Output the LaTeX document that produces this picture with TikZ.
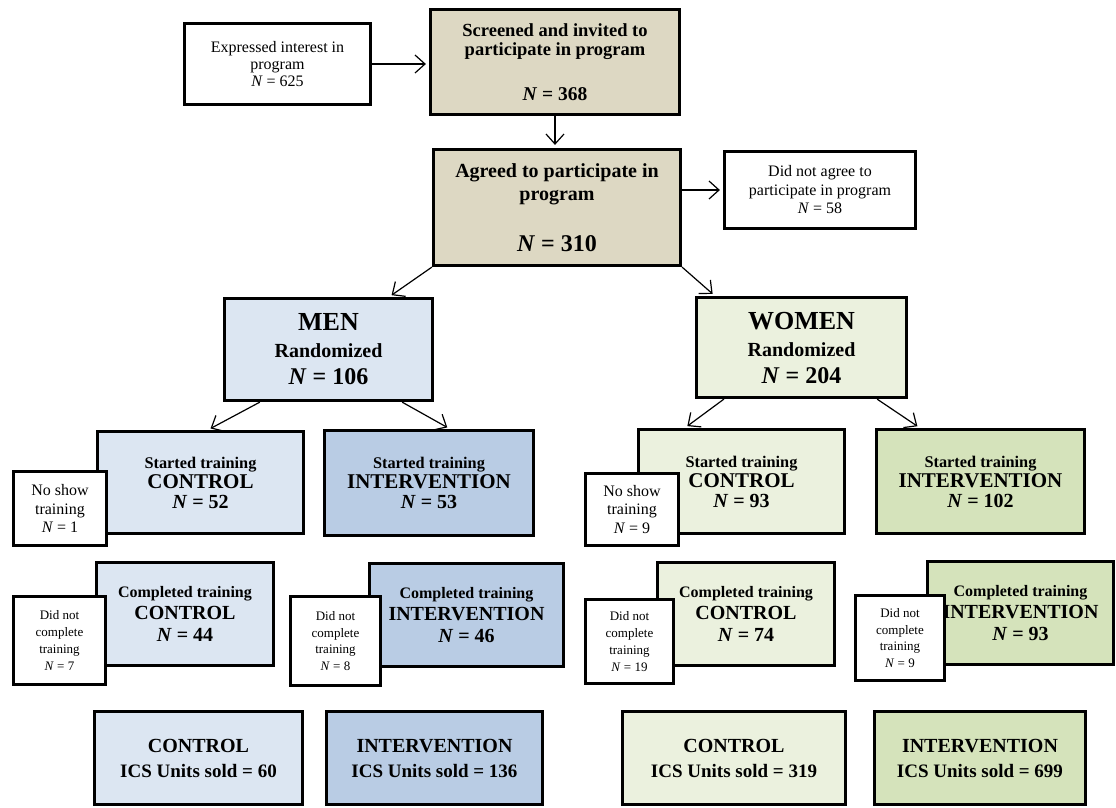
\documentclass[tikz,border=0pt]{standalone}
\usepackage{fontspec}
\setmainfont{Liberation Serif}
\usetikzlibrary{arrows.meta}
\definecolor{boxtan}{RGB}{221,216,195}
\definecolor{menlight}{RGB}{220,230,242}
\definecolor{mendark}{RGB}{185,204,228}
\definecolor{womenlight}{RGB}{235,241,222}
\definecolor{womendark}{RGB}{213,227,187}
\newcommand\fsz[2]{\fontsize{#1}{#2}\selectfont}

\begin{document}
\begin{tikzpicture}[x=1pt,y=-1pt,
  box/.style={draw,line width=3.2pt,align=center,inner sep=0pt},
  wh/.style 2 args={minimum width=#1pt,minimum height=#2pt},
  note/.style={box,fill=white},
  started/.style={box,font=\bfseries\fsz{20}{20}},
  completed/.style={box,font=\bfseries\fsz{20}{22}},
  sold/.style={box,font=\bfseries\fsz{19}{25}},
  dnc/.style={note,font=\fsz{13}{16.7}},
  link/.style={line width=1.2pt,-{Straight Barb[length=10pt,width=18pt]},shorten >=3pt}]
\useasboundingbox (0,0) rectangle (1116,807);

\node[note,wh={186}{81},font=\fsz{16}{17}] (expr) at (277.5,64) {Expressed interest in\\program\\\textit{N} = 625};
\node[box,fill=boxtan,wh={249}{105},font=\bfseries\fsz{18.5}{19}] (screen) at (555,62) {Screened and invited to\\participate in program\\[26pt]{\fsz{19.5}{19}\textit{N} = 368}};
\node[box,fill=boxtan,wh={247}{116},font=\bfseries\fsz{20}{23}] (agreed) at (557,207.5) {Agreed to participate in\\program\\[28pt]{\fsz{24}{26}\textit{N} = 310}};
\node[note,wh={191}{77},font=\fsz{16}{18.5}] (noagree) at (820,190) {Did not agree to\\participate in program\\\textit{N} = 58};

\node[box,fill=menlight,wh={208}{102},font=\bfseries\fsz{24}{27}] (men) at (328.5,349.5) {{\fsz{26}{27}MEN}\\{\fsz{20}{27}Randomized}\\\textit{N} = 106};
\node[box,fill=womenlight,wh={210}{100},font=\bfseries\fsz{24}{27}] (women) at (801.5,347.5) {{\fsz{26}{27}WOMEN}\\{\fsz{20}{27}Randomized}\\\textit{N} = 204};

\node[started,fill=menlight,wh={206}{102}] (mstartc) at (200.5,482.5) {{\fsz{16.3}{18}Started training}\\{\fsz{21}{20}CONTROL}\\\textit{N} = 52};
\node[started,fill=mendark,wh={209}{105}] (mstarti) at (429,483) {{\fsz{16.3}{18}Started training}\\{\fsz{21}{20}INTERVENTION}\\\textit{N} = 53};
\node[started,fill=womenlight,wh={206}{104}] (wstartc) at (741.5,481.5) {{\fsz{16.3}{18}Started training}\\{\fsz{21}{20}CONTROL}\\\textit{N} = 93};
\node[started,fill=womendark,wh={208}{104}] (wstarti) at (980.5,481.5) {{\fsz{16.3}{18}Started training}\\{\fsz{21}{20}INTERVENTION}\\\textit{N} = 102};
\node[note,wh={93}{74},font=\fsz{16}{18.5}] (mnoshow) at (60,508.5) {No show\\training\\\textit{N} = 1};
\node[note,wh={93}{72},font=\fsz{16}{18.5}] (wnoshow) at (632,509.5) {No show\\training\\\textit{N} = 9};

\node[completed,fill=menlight,wh={177}{103}] (mcompc) at (185,614) {{\fsz{16}{18}Completed training}\\CONTROL\\\textit{N} = 44};
\node[completed,fill=mendark,wh={194}{103}] (mcompi) at (466.5,615) {{\fsz{16}{18}Completed training}\\INTERVENTION\\\textit{N} = 46};
\node[completed,fill=womenlight,wh={177}{103}] (wcompc) at (746,614) {{\fsz{16}{18}Completed training}\\CONTROL\\\textit{N} = 74};
\node[completed,fill=womendark,wh={186}{103}] (wcompi) at (1020.5,613) {{\fsz{16}{18}Completed training}\\INTERVENTION\\\textit{N} = 93};
\node[dnc,wh={92}{88}] (mdncc) at (59.5,640.5) {Did not\\complete\\training\\\textit{N} = 7};
\node[dnc,wh={90}{89}] (mdnci) at (335.5,641) {Did not\\complete\\training\\\textit{N} = 8};
\node[dnc,wh={88}{84}] (wdncc) at (629.5,641.5) {Did not\\complete\\training\\\textit{N} = 19};
\node[dnc,wh={89}{85}] (wdnci) at (900,638) {Did not\\complete\\training\\\textit{N} = 9};

\node[sold,fill=menlight,wh={208}{93}] (msoldc) at (198.5,758) {{\fsz{20}{25}CONTROL}\\ICS Units sold = 60};
\node[sold,fill=mendark,wh={216}{93}] (msoldi) at (434.5,758) {{\fsz{20}{25}INTERVENTION}\\ICS Units sold = 136};
\node[sold,fill=womenlight,wh={223}{93}] (wsoldc) at (734,758) {{\fsz{20}{25}CONTROL}\\ICS Units sold = 319};
\node[sold,fill=womendark,wh={211}{93}] (wsoldi) at (980,758) {{\fsz{20}{25}INTERVENTION}\\ICS Units sold = 699};

\draw[link] (expr.east) -- (screen.west |- expr.east);
\draw[link] (screen.south) -- (screen.south |- agreed.north);
\draw[link] (agreed.east |- noagree.west) -- (noagree.west);
\draw[link] (agreed.south west) -- ([xshift=-45pt]men.north east);
\draw[link] (agreed.south east) -- ([xshift=20pt]women.north west);
\draw[link] ([xshift=37pt]men.south west) -- ([xshift=112pt]mstartc.north west);
\draw[link] ([xshift=-32pt]men.south east) -- ([xshift=127pt]mstarti.north west);
\draw[link] ([xshift=29pt]women.south west) -- ([xshift=48pt]wstartc.north west);
\draw[link] ([xshift=-31pt]women.south east) -- ([xshift=45pt]wstarti.north west);
\end{tikzpicture}
\end{document}
